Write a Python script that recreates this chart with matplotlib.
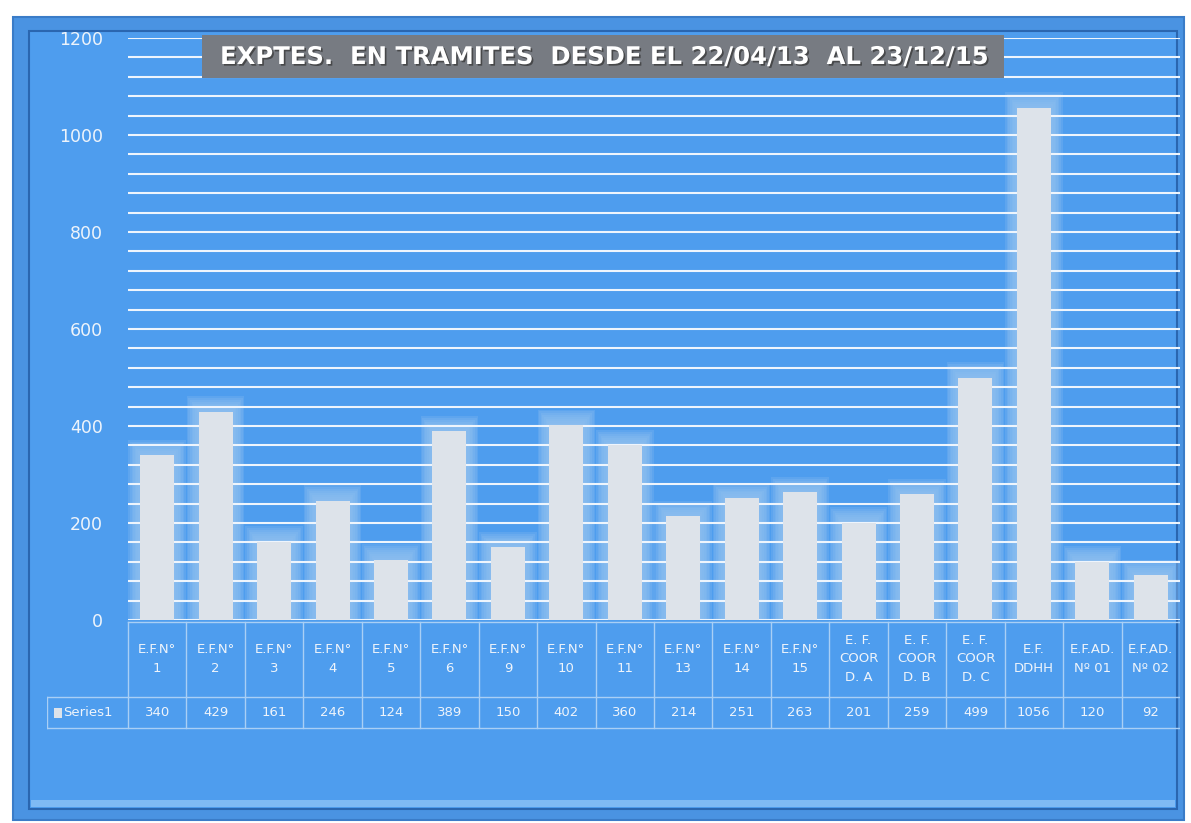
import numpy as np
import matplotlib
matplotlib.use('Agg')
import matplotlib.pyplot as plt
from matplotlib.patches import Rectangle
import matplotlib.patheffects as pe

# data
categories = ['E.F.N°\n1', 'E.F.N°\n2', 'E.F.N°\n3', 'E.F.N°\n4', 'E.F.N°\n5', 'E.F.N°\n6',
              'E.F.N°\n9', 'E.F.N°\n10', 'E.F.N°\n11', 'E.F.N°\n13', 'E.F.N°\n14', 'E.F.N°\n15',
              'E. F.\nCOOR\nD. A', 'E. F.\nCOOR\nD. B', 'E. F.\nCOOR\nD. C', 'E.F.\nDDHH',
              'E.F.AD.\nNº 01', 'E.F.AD.\nNº 02']
values = [340, 429, 161, 246, 124, 389, 150, 402, 360, 214, 251, 263, 201, 259, 499, 1056, 120, 92]
series_name = 'Series1'
title = 'EXPTES.  EN TRAMITES  DESDE EL 22/04/13  AL 23/12/15'
yticks = [0, 200, 400, 600, 800, 1000, 1200]

W, H = 1191, 823
panel_blue = '#4e9dee'
bar_color = '#dde3ea'
halo_color = '#8fc0f1'
text_color = '#eef4fb'
line_color = '#a9cff5'


def fx(x):
	return x / W


def fy(y):
	return 1 - y / H


def frame_rect(fig, x0, y0, x1, y1, **kw):
	# rectangle given in pixel coords (top-left origin)
	r = Rectangle((fx(x0), fy(y1)), fx(x1 - x0), (y1 - y0) / H, transform=fig.transFigure, **kw)
	fig.patches.append(r)
	return r


def make_chart():
	fig = plt.figure(figsize=(W / 100, H / 100), dpi=100, facecolor='white')

	# outer frame and inner panel, kept behind the axes
	frame_rect(fig, 13, 17, 1184, 820, facecolor='#4a93e2', edgecolor='#3a7cc8', lw=1.5, zorder=-3)
	frame_rect(fig, 29, 31, 1177, 809, facecolor=panel_blue, edgecolor='#2a66b0', lw=1.5, zorder=-2)
	frame_rect(fig, 31, 800, 1175, 807, facecolor='#7fbaf4', edgecolor='none', zorder=-1)

	n = len(values)
	x = np.arange(n)

	# main plot area
	ax = fig.add_axes([fx(128), fy(620), fx(1180 - 128), (620 - 38) / H])
	ax.set_facecolor('none')
	ax.set_xlim(-0.5, n - 0.5)
	ax.set_ylim(0, 1200)

	# soft glow around each bar
	for k in range(8):
		w = 0.6 + k * 0.055
		ax.bar(x, np.array(values) + 4 + k * 4, width=w, color=halo_color, alpha=0.25, zorder=1, lw=0)

	ax.bar(x, values, width=0.58, color=bar_color, zorder=3, lw=0)

	ax.set_yticks(yticks)
	ax.set_yticks(np.arange(40, 1201, 40), minor=True)
	ax.set_axisbelow(False)
	ax.grid(axis='y', which='both', color='#eef5fd', lw=1.5)
	ax.set_xticks([])
	ax.tick_params(axis='y', which='both', length=0, pad=18, labelsize=12.5, labelcolor=text_color)
	for s in ax.spines.values():
		s.set_visible(False)

	# title box
	frame_rect(fig, 202, 35, 1004, 78, facecolor='#777b82', edgecolor='none', zorder=5)
	fig.text(fx(604), fy(57), title, ha='center', va='center', color='white', fontsize=17.5,
		fontweight='bold', family='DejaVu Sans', zorder=6,
		path_effects=[pe.withSimplePatchShadow(offset=(1.2, -1.2), shadow_rgbFace='#333333', alpha=0.7)])

	# data table below the axes
	left = -0.5 - (128 - 47) / ((1180 - 128) / n)
	tax = fig.add_axes([fx(47), fy(730), fx(1180 - 47), (730 - 620) / H])
	tax.set_xlim(left, n - 0.5)
	tax.set_ylim(730, 620)
	tax.axis('off')
	y_top, y_mid, y_bot = 622, 697, 728
	tax.plot([-0.5, n - 0.5], [y_top, y_top], color=line_color, lw=1)
	tax.plot([left, n - 0.5], [y_mid, y_mid], color=line_color, lw=1)
	tax.plot([left, n - 0.5], [y_bot, y_bot], color=line_color, lw=1)
	tax.plot([left, left], [y_mid, y_bot], color=line_color, lw=1)
	for i in range(n + 1):
		tax.plot([i - 0.5, i - 0.5], [y_top, y_bot], color=line_color, lw=1)
	for i in range(n):
		tax.text(i, 659, categories[i], ha='center', va='center', fontsize=9.5, color=text_color,
			linespacing=1.55)
		tax.text(i, 713, str(values[i]), ha='center', va='center', fontsize=9.5, color=text_color)
	tax.add_patch(Rectangle((left + 0.12, 708), 0.13, 10, facecolor=bar_color, edgecolor='none'))
	tax.text(left + 0.28, 713, series_name, ha='left', va='center', fontsize=9.5, color=text_color)

	plt.savefig('out.png', dpi=100, facecolor=fig.get_facecolor())
	plt.close(fig)


if __name__ == '__main__':
	make_chart()
